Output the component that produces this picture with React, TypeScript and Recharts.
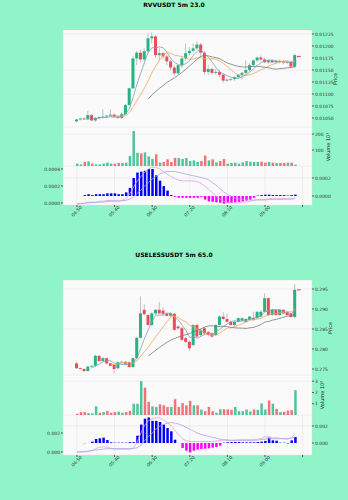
import { ComposedChart, Bar, Line, Scatter, Cell, XAxis, YAxis, CartesianGrid } from "recharts";

const FONT = "DejaVu Sans";
const BG = "#8ff5c8";
const PLOT_BG = "#fafafa";
const GRID = "#e0e0e0";
const UP = "#26b383";
const DOWN = "#f04a5a";
const VOL_UP = "#4fc49b";
const VOL_DOWN = "#f37179";
const WICK = "#999999";
const MA5_COLOR = "#7f9fc0";
const MA10_COLOR = "#f2a65a";
const MA20_COLOR = "#7a7a7a";
const MACD_COLOR = "#e2a0e4";
const SIGNAL_COLOR = "#a9a6e6";
const HIST_UP = "#0000ff";
const HIST_DOWN = "#ff00ff";

// shared time axis: candle index -> label
const timeTicks = [0, 10, 20, 30, 40, 50, 60];
const timeLabels = ["04:50", "05:40", "06:30", "07:20", "08:10", "09:00", ""];
const X_DOMAIN: [number, number] = [-3.7, 62.5];

// ---------- RVVUSDT ----------
const rvvOpen = [0.01043,0.01047,0.01049,0.01047,0.01056,0.01045,0.0105,0.01052,0.01053,0.01055,0.01057,0.01053,0.0105,0.01058,0.01077,0.01112,0.01174,0.01186,0.01172,0.01189,0.01216,0.0122,0.01181,0.01185,0.01178,0.01168,0.01155,0.01143,0.0116,0.01174,0.01185,0.0119,0.01195,0.01203,0.01186,0.01146,0.01152,0.01144,0.01146,0.0114,0.01128,0.0113,0.01131,0.01135,0.0114,0.01144,0.0115,0.0116,0.0117,0.01176,0.01172,0.01166,0.0117,0.01166,0.01169,0.01167,0.01166,0.01167,0.01157];
const rvvHigh = [0.01048,0.0105,0.01051,0.01065,0.01058,0.01052,0.01054,0.01068,0.01056,0.01068,0.0106,0.01056,0.01062,0.01079,0.01113,0.01178,0.0119,0.01192,0.01195,0.01226,0.01228,0.01222,0.01195,0.01188,0.01182,0.01172,0.0116,0.01162,0.01178,0.01205,0.01198,0.01205,0.0121,0.01206,0.0119,0.0116,0.01156,0.01152,0.0115,0.01143,0.01132,0.01133,0.01137,0.01142,0.01146,0.0117,0.01164,0.01172,0.01178,0.0118,0.01176,0.01172,0.01173,0.01172,0.01172,0.01171,0.0117,0.01169,0.01184];
const rvvLow = [0.01041,0.01045,0.01046,0.01046,0.01043,0.01042,0.01048,0.01049,0.0105,0.01052,0.01051,0.01048,0.01048,0.01056,0.01075,0.0111,0.0116,0.01166,0.01168,0.01185,0.01205,0.01175,0.0117,0.01172,0.0116,0.0115,0.01138,0.0114,0.01155,0.0117,0.0118,0.01186,0.01192,0.0118,0.0114,0.0114,0.0114,0.0114,0.01135,0.01124,0.01126,0.01127,0.01128,0.01132,0.0113,0.0114,0.01146,0.01156,0.01166,0.01168,0.01164,0.01162,0.01164,0.01162,0.01164,0.01162,0.01162,0.01154,0.01154];
const rvvClose = [0.01047,0.01049,0.01047,0.01056,0.01045,0.0105,0.01052,0.01053,0.01055,0.01057,0.01053,0.0105,0.01058,0.01077,0.01112,0.01174,0.01186,0.01172,0.01189,0.01216,0.0122,0.01181,0.01185,0.01178,0.01168,0.01155,0.01143,0.0116,0.01174,0.01185,0.0119,0.01195,0.01203,0.01186,0.01146,0.01152,0.01144,0.01146,0.0114,0.01128,0.0113,0.01131,0.01135,0.0114,0.01144,0.0115,0.0116,0.0117,0.01176,0.01172,0.01166,0.0117,0.01166,0.01169,0.01167,0.01166,0.01167,0.01157,0.01181];
const rvvMa5 = [null,null,null,null,0.010488,0.010494,0.0105,0.010512,0.01051,0.010534,0.01054,0.010536,0.010546,0.01059,0.0107,0.010942,0.011214,0.011442,0.011666,0.011874,0.011966,0.011956,0.011982,0.01196,0.011864,0.011734,0.011658,0.011608,0.0116,0.011634,0.011704,0.011808,0.011894,0.011918,0.01184,0.011764,0.011662,0.011548,0.011456,0.01142,0.011376,0.01135,0.011328,0.011328,0.01136,0.0114,0.011458,0.011528,0.0116,0.011656,0.011688,0.011708,0.0117,0.011686,0.011676,0.011676,0.01167,0.011652,0.011676];
const rvvMa10 = [null,null,null,null,null,null,null,null,null,0.010511,0.010517,0.010518,0.010529,0.01055,0.010617,0.010741,0.010875,0.010994,0.011128,0.011287,0.011454,0.011585,0.011712,0.011813,0.011869,0.01185,0.011807,0.011795,0.01178,0.011749,0.011719,0.011733,0.011751,0.011759,0.011737,0.011734,0.011735,0.011721,0.011687,0.01163,0.01157,0.011506,0.011438,0.011392,0.01139,0.011388,0.011404,0.011428,0.011464,0.011508,0.011544,0.011583,0.011614,0.011643,0.011666,0.011682,0.011689,0.011676,0.011681];
const rvvMa20 = [null,null,null,null,null,null,null,null,null,null,null,null,null,null,null,null,null,null,null,0.010899,0.010986,0.011052,0.011121,0.011182,0.011243,0.011296,0.011341,0.011395,0.011454,0.011518,0.011587,0.011659,0.011732,0.011786,0.011803,0.011792,0.011771,0.011758,0.011734,0.01169,0.011645,0.01162,0.011595,0.011576,0.011564,0.011561,0.01157,0.011575,0.011576,0.011569,0.011557,0.011545,0.011526,0.011518,0.011528,0.011535,0.011547,0.011552,0.011573];
const rvvVolume = [15,10,25,29,15,10,10,15,21,15,15,19,19,21,63,219,83,79,85,60,45,73,21,25,42,25,50,50,44,50,31,35,25,31,65,35,42,23,31,44,15,19,21,15,23,31,27,25,25,27,21,25,21,19,19,19,21,21,8];
// MACD panel values in units of 1e-4
const rvvMacd = [-0.1,-0.1,0,0.1,0.1,0.1,0.2,0.2,0.3,0.3,0.3,0.3,0.3,0.5,1.0,1.8,2.6,3.1,3.6,4.0,4.2,4.2,4.0,3.7,3.4,3.1,2.9,2.7,2.6,2.6,2.6,2.6,2.5,2.3,2.0,1.6,1.2,0.8,0.5,0.2,0.1,0,0,0,0.1,0.1,0.2,0.3,0.4,0.4,0.4,0.5,0.5,0.5,0.5,0.5,0.5,0.5,0.6];
const rvvSignal = [-0.1,-0.1,-0.05,0,0.05,0.05,0.1,0.1,0.15,0.2,0.2,0.2,0.25,0.3,0.45,0.7,1.1,1.5,2.0,2.4,2.8,3.1,3.4,3.6,3.7,3.7,3.7,3.6,3.5,3.4,3.3,3.2,3.1,3.0,2.9,2.7,2.4,2.1,1.7,1.3,1.0,0.8,0.6,0.5,0.4,0.35,0.35,0.35,0.35,0.35,0.35,0.4,0.4,0.4,0.4,0.45,0.45,0.45,0.5];
const rvvHist = [0,0,0.1,0.2,0.1,0.2,0.2,0.2,0.3,0.3,0.3,0.2,0.2,0.4,0.9,2.0,2.6,2.7,2.8,3.0,3.0,2.3,1.7,1.1,0.6,0.1,-0.1,-0.2,-0.2,-0.2,-0.2,-0.2,-0.2,-0.1,-0.4,-0.6,-0.65,-0.7,-0.75,-0.85,-0.75,-0.75,-0.7,-0.65,-0.6,-0.5,-0.4,-0.2,0.05,0.1,0.15,0.15,0.1,0.1,0.1,0.1,0.05,0.1,0.15];
const rvvMark = [{ i: 59, mark: 0.01178 }];
const rvvPriceTicks = [0.0105, 0.01075, 0.011, 0.01125, 0.0115, 0.01175, 0.012, 0.01225];
const rvvVolTicks = [100, 200];
const rvvHistTicks = [0, 2];
const rvvLineTicks = [0, 2, 4];

// ---------- USELESSUSDT ----------
const uslOpen = [0.2764,0.2752,0.275,0.2745,0.2756,0.2758,0.2783,0.277,0.2777,0.2764,0.276,0.2752,0.2767,0.2768,0.2767,0.2755,0.2777,0.2828,0.2898,0.2885,0.286,0.2889,0.2898,0.2896,0.2889,0.2883,0.2888,0.2856,0.2852,0.2827,0.2818,0.281,0.286,0.2835,0.2852,0.2842,0.2839,0.2835,0.286,0.2881,0.2875,0.2868,0.286,0.2868,0.2871,0.2868,0.2873,0.2878,0.2877,0.2881,0.2893,0.2927,0.2885,0.2898,0.2885,0.2898,0.2893,0.2889,0.288];
const uslHigh = [0.2768,0.2754,0.2752,0.2758,0.276,0.2786,0.2785,0.278,0.2779,0.2766,0.2763,0.2769,0.2771,0.277,0.2769,0.2779,0.283,0.2931,0.2912,0.2888,0.2892,0.29,0.2918,0.2904,0.2892,0.2892,0.289,0.286,0.2855,0.283,0.2822,0.2862,0.2864,0.285,0.2855,0.2845,0.2842,0.2862,0.2884,0.2892,0.2888,0.2871,0.287,0.2879,0.2879,0.2877,0.2883,0.2893,0.2896,0.2898,0.2939,0.2929,0.29,0.29,0.29,0.29,0.2895,0.2891,0.2962];
const uslLow = [0.275,0.2748,0.2742,0.2743,0.2753,0.2755,0.2768,0.2767,0.2762,0.2756,0.2739,0.275,0.2765,0.276,0.2753,0.2752,0.2775,0.2826,0.2884,0.2858,0.2857,0.2886,0.2887,0.2885,0.288,0.2881,0.2845,0.2848,0.282,0.2815,0.2795,0.2806,0.2828,0.2832,0.2836,0.2832,0.2828,0.2833,0.2858,0.2872,0.2866,0.2858,0.2858,0.2866,0.2869,0.2866,0.2871,0.287,0.2875,0.2879,0.2891,0.2882,0.2883,0.2883,0.2883,0.2887,0.2883,0.2878,0.2877];
const uslClose = [0.2752,0.275,0.2745,0.2756,0.2758,0.2783,0.277,0.2777,0.2764,0.2758,0.275,0.2767,0.2768,0.2763,0.2755,0.2777,0.2828,0.2889,0.2887,0.286,0.2889,0.2898,0.2889,0.2888,0.2883,0.2889,0.2848,0.2852,0.2823,0.2818,0.2802,0.286,0.2831,0.2848,0.2839,0.2835,0.2831,0.286,0.2881,0.2875,0.2868,0.286,0.2868,0.2877,0.2877,0.2875,0.2881,0.2873,0.2893,0.2893,0.2927,0.2885,0.2898,0.2885,0.2898,0.2889,0.2885,0.288,0.2948];
const uslMa5 = [null,null,null,null,0.27522,0.27584,0.27624,0.27688,0.27704,0.27704,0.27638,0.27632,0.27614,0.27612,0.27606,0.2766,0.27782,0.28024,0.28272,0.28482,0.28706,0.28846,0.28846,0.28848,0.28894,0.28894,0.28794,0.2872,0.2859,0.2846,0.28286,0.2831,0.28268,0.28318,0.2836,0.28426,0.28368,0.28426,0.28492,0.28564,0.2863,0.28688,0.28704,0.28696,0.287,0.28714,0.28756,0.28766,0.28798,0.2883,0.28934,0.28942,0.28992,0.28976,0.28986,0.2891,0.2891,0.28874,0.29];
const uslMa10 = [null,null,null,null,null,null,null,null,null,0.27613,0.27611,0.27628,0.27651,0.27658,0.27655,0.27649,0.27707,0.27819,0.27942,0.28044,0.28183,0.28314,0.28435,0.2856,0.28688,0.288,0.2882,0.28783,0.28719,0.28677,0.2859,0.28552,0.28494,0.28454,0.2841,0.28356,0.28339,0.28347,0.28405,0.28462,0.28528,0.28528,0.28565,0.28594,0.28632,0.28672,0.28722,0.28735,0.28747,0.28765,0.28824,0.28849,0.28879,0.28887,0.28908,0.28922,0.28926,0.28933,0.28988];
const uslMa20 = [null,null,null,null,null,null,null,null,null,null,null,null,null,null,null,null,null,null,null,0.27829,0.27897,0.27971,0.28043,0.28109,0.28172,0.28225,0.28264,0.28301,0.28331,0.28361,0.28387,0.28433,0.28465,0.28507,0.28549,0.28578,0.2858,0.28565,0.28562,0.2857,0.28559,0.2854,0.2853,0.28524,0.28521,0.28514,0.28531,0.28541,0.28576,0.28614,0.28676,0.28689,0.28722,0.28741,0.2877,0.28797,0.28824,0.28834,0.28868];
const uslVolume = [0.11,0.26,0.26,0.17,0.14,0.77,0.2,0.26,0.37,0.2,0.26,0.29,0.2,0.26,0.37,1.0,1.0,3.0,2.43,1.17,0.77,0.71,0.94,0.86,0.71,0.71,1.4,0.71,1.06,0.86,1.26,0.86,0.86,0.49,0.34,0.71,0.34,0.2,0.51,0.51,0.49,0.46,0.71,0.34,0.34,0.49,0.31,0.49,0.46,1.03,0.49,1.29,1.0,0.54,0.26,0.29,0.4,0.43,2.2];
// MACD panel values in units of 1e-3
const uslMacd = [0,0,0,0.05,0.15,0.35,0.5,0.55,0.5,0.4,0.3,0.3,0.3,0.3,0.3,0.4,1.0,2.0,2.8,3.3,3.5,3.6,3.6,3.4,3.1,2.8,2.3,1.8,1.4,1.2,1.1,1.1,1.1,1.1,1.1,1.1,1.1,1.15,1.2,1.25,1.25,1.25,1.25,1.3,1.3,1.3,1.3,1.3,1.35,1.4,1.6,1.6,1.5,1.5,1.45,1.4,1.35,1.5,1.9];
const uslSignal = [0,0,0.05,0.1,0.15,0.2,0.25,0.3,0.35,0.35,0.35,0.35,0.35,0.35,0.35,0.35,0.45,0.7,1.2,1.6,2.0,2.4,2.7,2.9,3.05,3.1,3.05,2.95,2.8,2.6,2.4,2.2,2.0,1.85,1.75,1.65,1.55,1.45,1.35,1.3,1.25,1.2,1.2,1.2,1.2,1.2,1.2,1.2,1.25,1.3,1.35,1.4,1.4,1.4,1.4,1.4,1.4,1.45,1.6];
const uslHist = [0,0,-0.04,0,0.16,0.47,0.55,0.63,0.35,0.08,0.04,0.04,0.04,0.04,0.1,0.1,0.86,2.16,2.86,3.0,2.6,2.6,2.47,2.16,1.76,1.37,0.39,0,-0.59,-0.9,-1.1,-0.9,-0.78,-0.7,-0.67,-0.63,-0.55,-0.47,-0.31,0.04,0.08,0.12,0.12,0.12,0.08,0.08,0.08,0.08,0.12,0.16,0.24,0.63,0.31,0.27,0.04,0.04,-0.08,0.31,0.7];
const uslMark = [{ i: 59, mark: 0.2948 }];
const uslPriceTicks = [0.275, 0.28, 0.285, 0.29, 0.295];
const uslVolTicks = [1, 2, 3];
const uslHistTicks = [0, 2];
const uslLineTicks = [0, 2];

const tickStyle = { fontSize: 4.5, fill: "#333", fontFamily: FONT };

function Candle(props: any) {
  const { x, y, width, height, payload } = props;
  if (payload == null || payload.o == null) return null;
  const { o, h, l, c } = payload;
  const yTop = Math.min(y, y + height);
  const span = Math.abs(height);
  const range = h - l || 1;
  const toY = (v: number) => yTop + ((h - v) / range) * span;
  const mid = x + width / 2;
  const bodyTop = toY(Math.max(o, c));
  const bodyBottom = toY(Math.min(o, c));
  return (
    <g>
      <line x1={mid} x2={mid} y1={yTop} y2={yTop + span} stroke={WICK} strokeWidth={0.6} />
      <rect x={x} y={bodyTop} width={width} height={Math.max(bodyBottom - bodyTop, 0.7)} fill={c >= o ? UP : DOWN} />
    </g>
  );
}

function LastMark(props: any) {
  const { cx, cy } = props;
  return <rect x={cx - 1.8} y={cy - 0.6} width={3.6} height={1.2} fill={DOWN} />;
}

function TimeTick(props: any) {
  const { x, y, payload } = props;
  const label = timeLabels[timeTicks.indexOf(payload.value)];
  const cy = y + 3.5;
  return (
    <text x={x} y={cy} transform={`rotate(-45 ${x} ${cy})`} textAnchor="middle" dominantBaseline="middle" fontSize={4.5} fill="#333" fontFamily={FONT}>
      {label}
    </text>
  );
}

function Market(props: any) {
  const {
    y0, title, open, high, low, close, ma5, ma10, ma20, volume, macd, signal, hist, mark,
    priceH, volH, macdH, priceDomain, priceTicks, priceDigits, volDomain, volTicks, volLabel,
    histDomain, histTicks, lineDomain, lineTicks, macdDigits, macdUnit, priceLabelX, volLabelX,
  } = props;

  const rows = open.map((o: number, i: number) => ({
    i, o, h: high[i], l: low[i], c: close[i],
    range: [low[i], high[i]],
    ma5: ma5[i], ma10: ma10[i], ma20: ma20[i],
    vol: volume[i], macd: macd[i], signal: signal[i], hist: hist[i],
  }));

  const hiddenX = (
    <XAxis dataKey="i" type="number" domain={X_DOMAIN} ticks={timeTicks} allowDataOverflow tick={false} tickLine={false} axisLine={false} height={0} />
  );
  const rightAxis = { orientation: "right" as const, width: 36, tickSize: 2, tickMargin: 1, axisLine: false, tick: tickStyle, tickLine: { stroke: "#555" }, allowDataOverflow: true };

  const volTop = y0 + priceH;
  const macdTop = volTop + volH;

  return (
    <>
      <div style={{ position: "absolute", left: 0, width: 348, top: y0 - 29, textAlign: "center", fontFamily: FONT, fontWeight: "bold", fontSize: 6, lineHeight: "8px", color: "#000" }}>
        {title}
      </div>

      <div style={{ position: "absolute", left: 0, top: y0 }}>
        <ComposedChart width={348} height={priceH} data={rows} margin={{ top: 0, right: 0, bottom: 0, left: 63 }}>
          <CartesianGrid stroke={GRID} strokeWidth={0.5} fill={PLOT_BG} />
          {hiddenX}
          <YAxis {...rightAxis} domain={priceDomain} ticks={priceTicks} tickFormatter={(v: number) => v.toFixed(priceDigits)} />
          <Bar dataKey="range" barSize={3} shape={<Candle />} isAnimationActive={false} />
          <Line dataKey="ma5" stroke={MA5_COLOR} strokeWidth={0.8} dot={false} isAnimationActive={false} />
          <Line dataKey="ma10" stroke={MA10_COLOR} strokeWidth={0.8} dot={false} isAnimationActive={false} />
          <Line dataKey="ma20" stroke={MA20_COLOR} strokeWidth={0.8} dot={false} isAnimationActive={false} />
          <Scatter data={mark} dataKey="mark" shape={<LastMark />} isAnimationActive={false} />
        </ComposedChart>
      </div>

      <div style={{ position: "absolute", left: 0, top: volTop }}>
        <ComposedChart width={348} height={volH} data={rows} margin={{ top: 0, right: 0, bottom: 0, left: 63 }}>
          <CartesianGrid stroke={GRID} strokeWidth={0.5} fill={PLOT_BG} />
          {hiddenX}
          <YAxis {...rightAxis} domain={volDomain} ticks={volTicks} />
          <Bar dataKey="vol" barSize={2.5} isAnimationActive={false}>
            {rows.map((r: any) => (
              <Cell key={r.i} fill={r.c >= r.o ? VOL_UP : VOL_DOWN} />
            ))}
          </Bar>
        </ComposedChart>
      </div>

      <div style={{ position: "absolute", left: 0, top: macdTop }}>
        <ComposedChart width={348} height={macdH + 22} data={rows} margin={{ top: 0, right: 0, bottom: 0, left: 41 }}>
          <CartesianGrid yAxisId="r" stroke={GRID} strokeWidth={0.5} fill={PLOT_BG} />
          <XAxis dataKey="i" type="number" domain={X_DOMAIN} ticks={timeTicks} allowDataOverflow height={22} axisLine={false} tickSize={2} tickMargin={1} tickLine={{ stroke: "#555" }} tick={<TimeTick />} />
          <YAxis yAxisId="l" orientation="left" width={22} tickSize={2} tickMargin={1} axisLine={false} tick={tickStyle} tickLine={{ stroke: "#555" }} allowDataOverflow domain={lineDomain} ticks={lineTicks} tickFormatter={(v: number) => (v * macdUnit).toFixed(macdDigits)} />
          <YAxis yAxisId="r" {...rightAxis} domain={histDomain} ticks={histTicks} tickFormatter={(v: number) => (v * macdUnit).toFixed(macdDigits)} />
          <Bar yAxisId="r" dataKey="hist" barSize={2.5} isAnimationActive={false}>
            {rows.map((r: any) => (
              <Cell key={r.i} fill={r.hist >= 0 ? HIST_UP : HIST_DOWN} />
            ))}
          </Bar>
          <Line yAxisId="l" dataKey="macd" stroke={MACD_COLOR} strokeWidth={0.8} dot={false} isAnimationActive={false} />
          <Line yAxisId="l" dataKey="signal" stroke={SIGNAL_COLOR} strokeWidth={0.8} dot={false} isAnimationActive={false} />
        </ComposedChart>
      </div>

      <div style={{ position: "absolute", left: priceLabelX, top: y0 + priceH / 2, transform: "translate(-50%, -50%) rotate(-90deg)", fontFamily: FONT, fontSize: 5, whiteSpace: "nowrap", color: "#222" }}>
        Price
      </div>
      <div style={{ position: "absolute", left: volLabelX, top: volTop + volH / 2, transform: "translate(-50%, -50%) rotate(-90deg)", fontFamily: FONT, fontSize: 5, whiteSpace: "nowrap", color: "#222" }}>
        {volLabel}
      </div>
    </>
  );
}

export default function App() {
  return (
    <div style={{ position: "absolute", left: 0, top: 0, width: 348, height: 500, background: BG, overflow: "hidden" }}>
      <Market
        y0={30} title="RVVUSDT 5m 23.0"
        open={rvvOpen} high={rvvHigh} low={rvvLow} close={rvvClose}
        ma5={rvvMa5} ma10={rvvMa10} ma20={rvvMa20}
        volume={rvvVolume} macd={rvvMacd} signal={rvvSignal} hist={rvvHist} mark={rvvMark}
        priceH={97} volH={39} macdH={39}
        priceDomain={[0.010313, 0.012333]} priceTicks={rvvPriceTicks} priceDigits={5}
        volDomain={[0, 244]} volTicks={rvvVolTicks} volLabel="Volume  10³"
        histDomain={[-1.0, 3.33]} histTicks={rvvHistTicks}
        lineDomain={[-0.24, 4.35]} lineTicks={rvvLineTicks}
        macdDigits={4} macdUnit={1e-4}
        priceLabelX={335} volLabelX={328}
      />
      <Market
        y0={280} title="USELESSUSDT 5m 65.0"
        open={uslOpen} high={uslHigh} low={uslLow} close={uslClose}
        ma5={uslMa5} ma10={uslMa10} ma20={uslMa20}
        volume={uslVolume} macd={uslMacd} signal={uslSignal} hist={uslHist} mark={uslMark}
        priceH={95} volH={40} macdH={40}
        priceDomain={[0.2735, 0.29725]} priceTicks={uslPriceTicks} priceDigits={3}
        volDomain={[0, 3.55]} volTicks={uslVolTicks} volLabel="Volume  10⁶"
        histDomain={[-1.41, 3.29]} histTicks={uslHistTicks}
        lineDomain={[-0.32, 3.9]} lineTicks={uslLineTicks}
        macdDigits={3} macdUnit={1e-3}
        priceLabelX={330} volLabelX={322}
      />
    </div>
  );
}
